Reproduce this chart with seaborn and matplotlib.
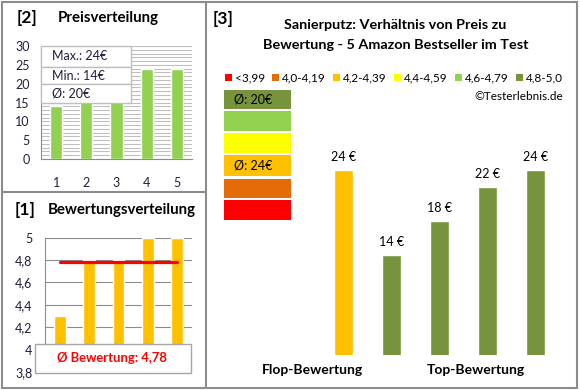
import numpy as np
import pandas as pd
import matplotlib
matplotlib.use("Agg")
import matplotlib.pyplot as plt
from matplotlib.patches import Rectangle
from matplotlib.lines import Line2D
import seaborn as sns

sns.set_theme(style="white")
plt.rcParams['font.family'] = ['Lato', 'DejaVu Sans']

# ---------------- data ----------------
positions = ["1", "2", "3", "4", "5"]
prices_sorted = [14, 18, 22, 24, 24]
ratings_sorted = [4.3, 4.8, 4.8, 5.0, 5.0]
rating_avg = 4.78
price_max, price_min, price_avg = 24, 14, 20
main_prices = [24, 14, 18, 22, 24]
main_ratings = [4.3, 4.8, 4.8, 5.0, 5.0]
legend_labels = ["<3,99", "4,0-4,19", "4,2-4,39", "4,4-4,59", "4,6-4,79", "4,8-5,0"]
legend_colors = ["#FF0000", "#E36C09", "#FFC000", "#FFFF00", "#92D050", "#77933C"]
bin_edges = [4.0, 4.2, 4.4, 4.6, 4.8]
block_labels = {5: "Ø: 20€", 2: "Ø: 24€"}


def rating_color(r):
    idx = int(np.searchsorted(bin_edges, r, side="right"))
    return legend_colors[idx]


W, H = 580, 390
fig = plt.figure(figsize=(W / 100, H / 100), dpi=100)
fig.patch.set_facecolor("white")


def fx(x):
    return x / W


def fy(y):
    return 1 - y / H


def add_axes_px(x0, y0, x1, y1):
    return fig.add_axes([fx(x0), fy(y1), (x1 - x0) / W, (y1 - y0) / H])


TXT = "#1F1F3F"
GRID = "#8C8C8C"

# ---------------- panel [2] Preisverteilung ----------------
ax2 = add_axes_px(41, 46, 192, 159)
df2 = pd.DataFrame({"pos": positions, "price": prices_sorted})
sns.barplot(data=df2, x="pos", y="price", color="#92D050", width=0.4,
            saturation=1, ax=ax2, zorder=3)
ax2.set_ylim(0, 30)
ax2.set_yticks(range(0, 31, 5))
ax2.set_yticks(range(0, 31), minor=True)
ax2.grid(axis="y", which="both", color="#BFBFBF", lw=0.8, zorder=0)
ax2.set_axisbelow(True)
ax2.set_xlabel("")
ax2.set_ylabel("")
for s in ["top", "right"]:
    ax2.spines[s].set_visible(False)
for s in ["left", "bottom"]:
    ax2.spines[s].set_color(GRID)
    ax2.spines[s].set_linewidth(0.8)
ax2.tick_params(axis="both", which="both", length=0, labelsize=9, colors=TXT)
ax2.tick_params(axis="y", pad=8)
ax2.tick_params(axis="x", pad=13)

# info box over panel [2]
rows = [(46, 67, f"Max.: {price_max}€"), (67, 84, f"Min.: {price_min}€"),
        (84, 103, f"Ø: {price_avg}€")]
for (y0, y1, label) in rows:
    fig.add_artist(Rectangle((fx(41), fy(y1)), (131 - 41) / W, (y1 - y0) / H,
                             transform=fig.transFigure, facecolor="white",
                             edgecolor="#BFBFBF", lw=1, zorder=10))
    fig.text(fx(52), fy((y0 + y1) / 2), label, ha="left", va="center",
             fontsize=9, color=TXT, zorder=11)

fig.text(fx(17), fy(18), "[2]", fontsize=12.5, fontweight="bold", color="black",
         ha="left", va="center")
fig.text(fx(58), fy(18), "Preisverteilung", fontsize=10.8, fontweight="bold",
         color="black", ha="left", va="center")

# ---------------- panel [1] Bewertungsverteilung ----------------
ax1 = add_axes_px(45, 237.7, 192, 372)
df1 = pd.DataFrame({"pos": positions, "rating": ratings_sorted})
sns.barplot(data=df1, x="pos", y="rating", color="#FFC000", width=0.4,
            saturation=1, ax=ax1, zorder=3)
sns.lineplot(x=np.arange(len(positions)), y=[rating_avg] * len(positions),
             color="#FF0000", lw=2.3, ax=ax1, zorder=4)
ax1.set_xlim(-0.5, 4.5)
ax1.set_ylim(3.8, 5.0)
yt = np.round(np.arange(3.8, 5.01, 0.2), 1)
ax1.set_yticks(yt)
ax1.set_yticklabels([f"{v:g}".replace(".", ",") for v in yt])
ax1.grid(axis="y", color=GRID, lw=0.8)
ax1.set_axisbelow(True)
ax1.set_xticks([])
ax1.set_xlabel("")
ax1.set_ylabel("")
for s in ["top", "right", "bottom"]:
    ax1.spines[s].set_visible(False)
ax1.spines["left"].set_color(GRID)
ax1.spines["left"].set_linewidth(0.8)
ax1.tick_params(axis="y", length=0, labelsize=9, colors=TXT, pad=9)

fig.add_artist(Rectangle((fx(35), fy(373)), (191 - 35) / W, (373 - 344) / H,
                         transform=fig.transFigure, facecolor="white",
                         edgecolor="#A6A6A6", lw=1, zorder=10))
fig.text(fx(112), fy(358.5), f"Ø Bewertung: {rating_avg:.2f}".replace(".", ","),
         ha="center", va="center", fontsize=9.4, fontweight="bold",
         color="#FF0000", zorder=11)

fig.text(fx(15), fy(210), "[1]", fontsize=12.5, fontweight="bold", color="black",
         ha="left", va="center")
fig.text(fx(48), fy(210), "Bewertungsverteilung", fontsize=10.8,
         fontweight="bold", color="black", ha="left", va="center")

# ---------------- panel [3] main ----------------
ax3 = add_axes_px(319.5, 150, 559.5, 355)
df3 = pd.DataFrame({"pos": positions, "price": main_prices})
bar_colors = [rating_color(r) for r in main_ratings]
sns.barplot(data=df3, x="pos", y="price", hue="pos", palette=bar_colors,
            width=0.4, saturation=1, legend=False, ax=ax3)
ax3.set_ylim(2.24, 26.36)
ax3.set_xlim(-0.5, 4.5)
for c in ax3.containers:
    ax3.bar_label(c, fmt="{:.0f} €", padding=5, fontsize=9, color="black")
ax3.axis("off")

fig.text(fx(213), fy(19), "[3]", fontsize=12.5, fontweight="bold", color="black",
         ha="left", va="center")
fig.text(fx(395), fy(25), "Sanierputz: Verhältnis von Preis zu", fontsize=10.4,
         fontweight="bold", color="black", ha="center", va="center")
fig.text(fx(396), fy(45), "Bewertung - 5 Amazon Bestseller im Test",
         fontsize=10.4, fontweight="bold", color="black", ha="center",
         va="center")

# legend row
leg_x = [225, 272, 333, 394, 455, 516]
for x0, lab, col in zip(leg_x, legend_labels, legend_colors):
    fig.add_artist(Rectangle((fx(x0), fy(81)), 7 / W, 7 / H,
                             transform=fig.transFigure, facecolor=col,
                             edgecolor="none"))
    fig.text(fx(x0 + 10), fy(77.5), lab, fontsize=8.5, color="black",
             ha="left", va="center")

fig.text(fx(563), fy(97), "©Testerlebnis.de", fontsize=8.5, color="black",
         ha="right", va="center")

# color scale blocks
blocks = [(90, 109), (111, 131), (133, 153), (155, 176), (179, 198), (200, 220)]
for i, (y0, y1) in enumerate(blocks):
    col = legend_colors[len(legend_colors) - 1 - i]
    fig.add_artist(Rectangle((fx(224), fy(y1)), (291 - 224) / W, (y1 - y0) / H,
                             transform=fig.transFigure, facecolor=col,
                             edgecolor="none"))
    ci = len(legend_colors) - 1 - i
    if ci in block_labels:
        fig.text(fx(234), fy((y0 + y1) / 2), block_labels[ci], fontsize=9,
                 color="black", ha="left", va="center")

fig.text(fx(312), fy(370), "Flop-Bewertung", fontsize=10, fontweight="bold",
         color="black", ha="center", va="center")
fig.text(fx(476), fy(370), "Top-Bewertung", fontsize=10, fontweight="bold",
         color="black", ha="center", va="center")

# ---------------- frames ----------------
BORDER = "#8C8C8C"
fig.add_artist(Rectangle((fx(2), fy(387.5)), (577 - 2) / W, (387.5 - 1.5) / H,
                         transform=fig.transFigure, facecolor="none",
                         edgecolor=BORDER, lw=1.5))
fig.add_artist(Line2D([fx(205.5), fx(205.5)], [fy(1.5), fy(387.5)],
                      transform=fig.transFigure, color=BORDER, lw=1.5))
fig.add_artist(Line2D([fx(2), fx(205.5)], [fy(192), fy(192)],
                      transform=fig.transFigure, color=BORDER, lw=1.5))

fig.savefig("out.png", dpi=100, facecolor="white")
